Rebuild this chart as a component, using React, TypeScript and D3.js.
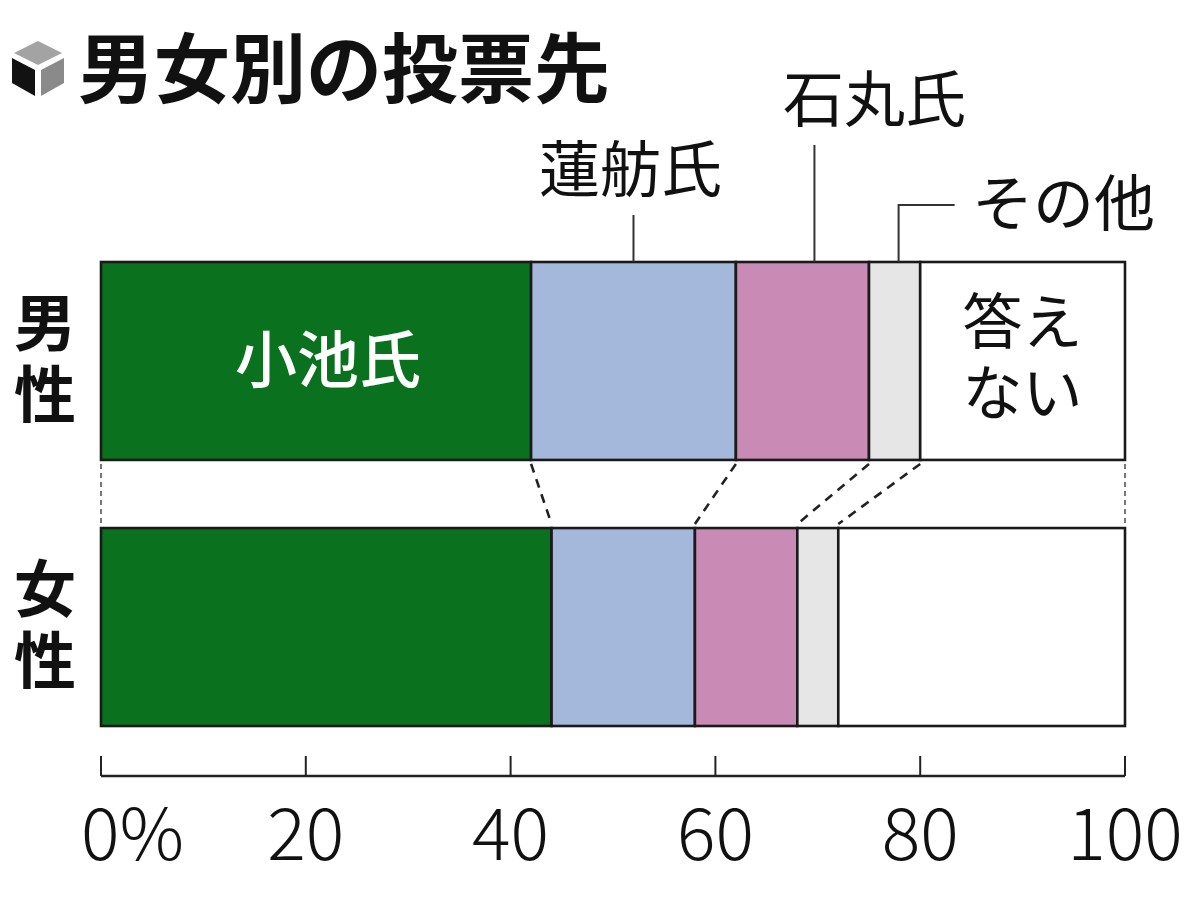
import React from "react";
import * as d3 from "d3";

const rows = ["男性", "女性"];
const categories = ["小池氏", "蓮舫氏", "石丸氏", "その他", "答えない"];
const maleValues = [42, 20, 13, 5, 20];
const femaleValues = [44, 14, 10, 4, 28];
const ticks = [0, 20, 40, 60, 80, 100];
const colors = ["#0a721e", "#a4b8dc", "#c98bb6", "#e6e6e6", "#ffffff"];

const FONT = "'Noto Sans CJK JP', 'Noto Sans', sans-serif";

export default function App() {
  const W = 1200, H = 901;
  const x = d3.scaleLinear().domain([0, 100]).range([101, 1125]);
  const y = d3.scaleBand<string>().domain(rows).range([262, 726]).paddingInner(0.256).paddingOuter(0);
  const bw = y.bandwidth();
  const data = [maleValues, femaleValues];
  const stacks = data.map((vals) => {
    let acc = 0;
    return vals.map((v, i) => {
      const s = { key: categories[i], x0: acc, x1: acc + v, color: colors[i] };
      acc += v;
      return s;
    });
  });
  const yMale = y(rows[0])!;
  const yFemale = y(rows[1])!;
  const maleBottom = yMale + bw;
  const maleB = stacks[0].map((s) => s.x1);
  const femaleB = stacks[1].map((s) => s.x1);
  const axisY = 776;

  const segM = stacks[0];
  const annot = [
    { label: categories[1], seg: segM[1], dx: 0, lineTop: 215, textY: 192, textX: -3 },
    { label: categories[2], seg: segM[2], dx: 12, lineTop: 145, textY: 122, textX: 60 },
  ];
  const other = segM[3];
  const otherX = (x(other.x0) + x(other.x1)) / 2 + 4;
  const naX = (x(segM[4].x0) + x(segM[4].x1)) / 2;

  return (
    <svg width={W} height={H} viewBox={`0 0 ${W} ${H}`} style={{ display: "block", position: "absolute", left: 0, top: 0, background: "#fff" }}>
      <rect x={0} y={0} width={W} height={H} fill="#fff" />
      {/* Title icon */}
      <g>
        <polygon points="38,41 62,53 38,65 14,53" fill="#a3a3a3" />
        <polygon points="12,58 35,70 35,96 12,83" fill="#121212" />
        <polygon points="41,70 64,58 64,83 41,96" fill="#8a8a8a" />
      </g>
      <text x={78} y={97} fontFamily={FONT} fontWeight={700} fontSize={76} fill="#111">男女別の投票先</text>

      {/* Row labels */}
      {rows.map((r) => {
        const cy = y(r)! + bw / 2;
        return (
          <text key={r} textAnchor="middle" fontFamily={FONT} fontWeight={700} fontSize={62} fill="#111">
            <tspan x={45} y={cy - 15}>{r[0]}</tspan>
            <tspan x={45} dy={72}>{r[1]}</tspan>
          </text>
        );
      })}

      {/* Connectors */}
      {[0, ...maleB].map((b, i) => {
        const f = i === 0 ? 0 : femaleB[i - 1];
        const edge = i === 0 || i === maleB.length;
        return (
          <line key={i} x1={x(b)} y1={maleBottom + 4} x2={x(f)} y2={yFemale - 4}
            stroke={edge ? "#555" : "#222"} strokeWidth={edge ? 1.6 : 2.6}
            strokeDasharray={edge ? "5,4" : "9,7"} />
        );
      })}

      {/* Bars */}
      {stacks.map((segs, ri) => (
        <g key={ri}>
          {segs.map((s) => (
            <rect key={s.key} x={x(s.x0)} y={y(rows[ri])!} width={x(s.x1) - x(s.x0)} height={bw}
              fill={s.color} stroke="#1a1a1a" strokeWidth={2.6} />
          ))}
        </g>
      ))}

      {/* In-bar labels */}
      <text x={(x(segM[0].x0) + x(segM[0].x1)) / 2 + 12} y={yMale + bw / 2 + 22} textAnchor="middle"
        fontFamily={FONT} fontWeight={500} fontSize={62} fill="#fff">{categories[0]}</text>
      <text textAnchor="middle" fontFamily={FONT} fontSize={60} fill="#111">
        <tspan x={naX} y={yMale + bw / 2 - 17}>答え</tspan>
        <tspan x={naX} dy={71}>ない</tspan>
      </text>

      {/* Annotations */}
      {annot.map((a) => {
        const cx = (x(a.seg.x0) + x(a.seg.x1)) / 2 + a.dx;
        return (
          <g key={a.label}>
            <line x1={cx} y1={a.lineTop} x2={cx} y2={yMale} stroke="#333" strokeWidth={2} />
            <text x={cx + a.textX} y={a.textY} textAnchor="middle" fontFamily={FONT} fontSize={61} fill="#111">{a.label}</text>
          </g>
        );
      })}
      <polyline points={`${otherX},${yMale} ${otherX},205 ${otherX + 56},205`} fill="none" stroke="#333" strokeWidth={2} />
      <text x={972} y={226} fontFamily={FONT} fontSize={61} fill="#111">{categories[3]}</text>

      {/* Axis */}
      <line x1={x(0)} y1={axisY} x2={x(100)} y2={axisY} stroke="#222" strokeWidth={2.4} />
      {ticks.map((t) => (
        <g key={t}>
          <line x1={x(t)} y1={axisY - 20} x2={x(t)} y2={axisY} stroke="#222" strokeWidth={2} />
          <text x={t === 0 ? x(t) - 20 : x(t)} y={860} textAnchor={t === 0 ? "start" : "middle"}
            fontFamily={FONT} fontWeight={300} fontSize={72} fill="#111">{t === 0 ? "0%" : String(t)}</text>
        </g>
      ))}
    </svg>
  );
}
